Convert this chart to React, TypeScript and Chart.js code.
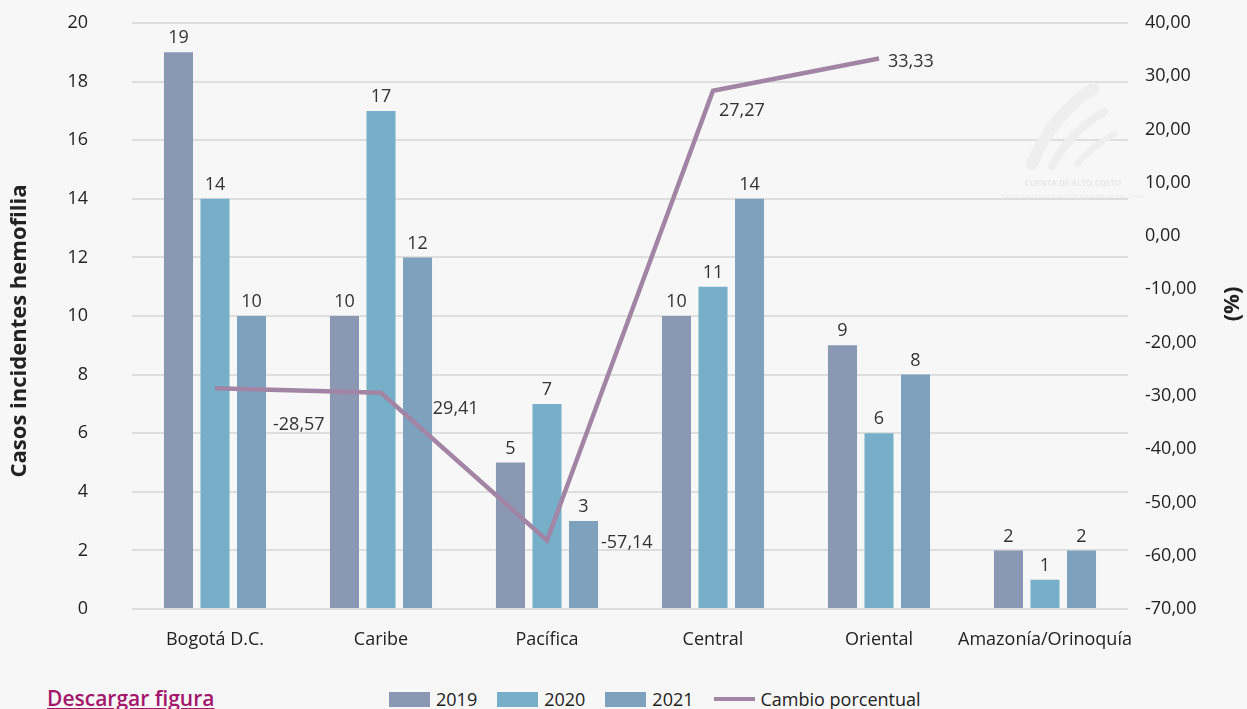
import React, { useEffect, useRef } from "react";
import { Chart, registerables } from "chart.js";

Chart.register(...registerables);

// ---- Data ----
const categories = ["Bogotá D.C.", "Caribe", "Pacífica", "Central", "Oriental", "Amazonía/Orinoquía"];
const seriesNames = ["2019", "2020", "2021"];
const cases2019 = [19, 10, 5, 10, 9, 2];
const cases2020 = [14, 17, 7, 11, 6, 1];
const cases2021 = [10, 12, 3, 14, 8, 2];
const lineName = "Cambio porcentual";
const percentChange: (number | null)[] = [-28.57, -29.41, -57.14, 27.27, 33.33, null];
const leftAxisTitle = "Casos incidentes hemofilia";
const rightAxisTitle = "(%)";
const leftRange = { min: 0, max: 20, step: 2 };
const rightRange = { min: -70, max: 40, step: 10 };

// ---- Styles ----
const FONT = "'Open Sans', Lato, sans-serif";
const barColors = ["#8a98b3", "#76afc7", "#7ea1bd"];
const lineColor = "#a285a4";
const bgColor = "#f7f7f7";
const textColor = "#222222";
const lineLabelOffsets: [number, number][] = [
  [58, 37],
  [46, 16],
  [54, 2],
  [6, 20],
  [9, 3],
  [0, 0],
];

const fmt = (v: number) => v.toFixed(2).replace(".", ",");

const customPlugin = {
  id: "customLabels",
  beforeDatasetsDraw(chart: any) {
    const ctx = chart.ctx as CanvasRenderingContext2D;
    ctx.save();
    // faint watermark
    ctx.strokeStyle = "#eeeeee";
    ctx.lineCap = "round";
    const strokes: [number, number, number, number, number, number, number][] = [
      [1032, 164, 1052, 115, 1094, 88, 12],
      [1052, 166, 1070, 132, 1104, 112, 8],
      [1077, 164, 1092, 146, 1114, 134, 6],
    ];
    strokes.forEach(([x0, y0, cx, cy, x1, y1, w]) => {
      ctx.lineWidth = w;
      ctx.beginPath();
      ctx.moveTo(x0, y0);
      ctx.quadraticCurveTo(cx, cy, x1, y1);
      ctx.stroke();
    });
    ctx.fillStyle = "#e8e8e8";
    ctx.font = `bold 8px ${FONT}`;
    ctx.textAlign = "center";
    ctx.textBaseline = "middle";
    ctx.fillText("CUENTA DE ALTO COSTO", 1073, 184);
    ctx.font = `6px ${FONT}`;
    ctx.fillText("Fondo Colombiano de Enfermedades de Alto Costo", 1073, 196);

    // line value labels (drawn under bars)
    const meta = chart.getDatasetMeta(3);
    ctx.fillStyle = "#333333";
    ctx.font = `18px ${FONT}`;
    ctx.textAlign = "left";
    ctx.textBaseline = "middle";
    meta.data.forEach((pt: any, i: number) => {
      const v = percentChange[i];
      if (v === null || v === undefined) return;
      const [dx, dy] = lineLabelOffsets[i];
      ctx.fillText(fmt(v), pt.x + dx, pt.y + dy);
    });
    ctx.restore();
  },
  afterDatasetsDraw(chart: any) {
    const ctx = chart.ctx as CanvasRenderingContext2D;
    ctx.save();
    ctx.fillStyle = "#333333";
    ctx.font = `18px ${FONT}`;
    ctx.textAlign = "center";
    ctx.textBaseline = "middle";
    for (let d = 0; d < 3; d++) {
      const meta = chart.getDatasetMeta(d);
      const values = chart.data.datasets[d].data as number[];
      meta.data.forEach((bar: any, i: number) => {
        ctx.fillText(String(values[i]), bar.x, bar.y - 14);
      });
    }
    ctx.restore();
  },
  afterDraw(chart: any) {
    const ctx = chart.ctx as CanvasRenderingContext2D;
    ctx.save();
    ctx.fillStyle = textColor;
    ctx.font = `bold 22px ${FONT}`;
    ctx.textAlign = "center";
    ctx.textBaseline = "middle";
    ctx.translate(20, 331);
    ctx.rotate(-Math.PI / 2);
    ctx.fillText(leftAxisTitle, 0, 0);
    ctx.restore();

    ctx.save();
    ctx.fillStyle = textColor;
    ctx.font = `bold 22px ${FONT}`;
    ctx.textAlign = "center";
    ctx.textBaseline = "middle";
    ctx.translate(1233, 304);
    ctx.rotate(-Math.PI / 2);
    ctx.fillText(rightAxisTitle, 0, 0);
    ctx.restore();
  },
};

export default function App() {
  const canvasRef = useRef<HTMLCanvasElement | null>(null);

  useEffect(() => {
    if (!canvasRef.current) return;
    const barSets = [cases2019, cases2020, cases2021].map((data, i) => ({
      type: "bar" as const,
      label: seriesNames[i],
      data,
      backgroundColor: barColors[i],
      yAxisID: "y",
      order: 2,
      categoryPercentage: 0.66,
      barPercentage: 0.795,
    }));
    const chart = new Chart(canvasRef.current, {
      type: "bar",
      data: {
        labels: categories,
        datasets: [
          ...barSets,
          {
            type: "line" as const,
            label: lineName,
            data: percentChange,
            borderColor: lineColor,
            backgroundColor: lineColor,
            borderWidth: 4.5,
            pointRadius: 0,
            tension: 0,
            yAxisID: "y1",
            order: 0,
          } as any,
        ],
      },
      options: {
        responsive: false,
        animation: false,
        layout: { padding: { top: 23, left: 0, right: 0, bottom: 0 } },
        plugins: {
          legend: { display: false },
          tooltip: { enabled: false },
        },
        scales: {
          x: {
            grid: { display: false, drawTicks: false },
            border: { display: false },
            ticks: {
              color: textColor,
              font: { family: FONT, size: 18 },
              padding: 20,
              maxRotation: 0,
              autoSkip: false,
            },
            afterFit: (s: any) => {
              s.height = 71;
            },
          },
          y: {
            position: "left",
            min: leftRange.min,
            max: leftRange.max,
            grid: { color: "#dedede", lineWidth: 2, drawTicks: false },
            border: { display: false },
            ticks: {
              stepSize: leftRange.step,
              color: textColor,
              font: { family: FONT, size: 18 },
              padding: 44,
            },
            afterFit: (s: any) => {
              s.width = 132;
              s.paddingTop = 0;
              s.paddingBottom = 0;
            },
          },
          y1: {
            position: "right",
            min: rightRange.min,
            max: rightRange.max,
            grid: { display: false, drawTicks: false },
            border: { display: false },
            ticks: {
              stepSize: rightRange.step,
              color: textColor,
              font: { family: FONT, size: 18 },
              padding: 17,
              callback: (v: any) => fmt(Number(v)),
            },
            afterFit: (s: any) => {
              s.width = 119;
              s.paddingTop = 0;
              s.paddingBottom = 0;
            },
          },
        },
      },
      plugins: [customPlugin],
    });
    return () => chart.destroy();
  }, []);

  const legendItems = [
    ...seriesNames.map((n, i) => ({ name: n, color: barColors[i], line: false })),
    { name: lineName, color: lineColor, line: true },
  ];

  return (
    <div
      style={{
        position: "absolute",
        left: 0,
        top: 0,
        width: 1247,
        height: 709,
        background: bgColor,
        overflow: "hidden",
        fontFamily: FONT,
      }}
    >
      <canvas ref={canvasRef} width={1247} height={680} style={{ display: "block" }} />
      <a
        href="#"
        style={{
          position: "absolute",
          left: 47,
          top: 685,
          fontSize: 21,
          fontWeight: 600,
          color: "#a3166c",
          textDecoration: "underline",
          lineHeight: "26px",
        }}
      >
        Descargar figura
      </a>
      <div
        style={{
          position: "absolute",
          left: 389,
          top: 687,
          display: "flex",
          alignItems: "center",
          height: 24,
          fontSize: 18,
          color: textColor,
        }}
      >
        {legendItems.map((it, i) => (
          <div key={i} style={{ display: "flex", alignItems: "center", marginRight: 20 }}>
            <span
              style={{
                display: "inline-block",
                width: 41,
                height: it.line ? 4 : 15,
                background: it.color,
                marginRight: 6,
              }}
            />
            <span>{it.name}</span>
          </div>
        ))}
      </div>
    </div>
  );
}
